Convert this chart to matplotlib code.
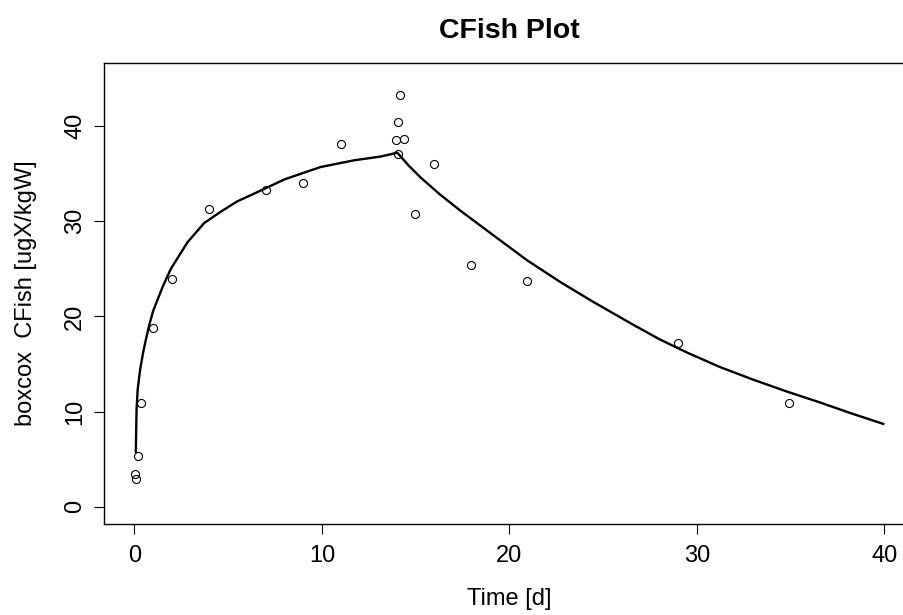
import matplotlib
matplotlib.use("Agg")
import matplotlib.pyplot as plt

plt.rcParams["font.family"] = ["Liberation Sans", "DejaVu Sans"]

# observed concentrations (time in days, boxcox-transformed CFish)
obs_time = [0.04, 0.08, 0.17, 0.36, 1.0, 2.0, 4.0, 7.0, 9.0, 11.0,
            13.93, 14.05, 14.07, 14.14, 14.35, 14.98, 15.95, 17.94,
            20.96, 28.97, 34.93]
obs_conc = [3.47, 2.91, 5.36, 10.92, 18.8, 23.9, 31.24, 33.3, 34.0, 38.1,
            38.5, 37.05, 40.4, 43.3, 38.6, 30.75, 36.0, 25.4,
            23.7, 17.2, 10.9]

# fitted model curve (uptake until day 14, then depuration)
fit_time = [0.07, 0.11, 0.17, 0.30, 0.45, 0.61, 0.8, 1.0, 1.5, 1.94,
            2.83, 3.71, 4.6, 5.49, 6.38, 8.0, 9.93, 11.7, 13.13, 14.02,
            14.6, 15.26, 16.3, 17.39, 19.16, 20.94, 22.72, 24.49, 26.62,
            28.0, 29.47, 31.2, 33.0, 34.8, 36.57, 38.17, 39.94]
fit_conc = [5.78, 10.2, 12.3, 14.4, 16.1, 17.6, 19.2, 20.6, 23.1, 25.0,
            27.8, 29.8, 31.0, 32.1, 32.9, 34.4, 35.7, 36.4, 36.8, 37.2,
            35.9, 34.6, 32.8, 31.1, 28.5, 25.9, 23.6, 21.5, 19.1,
            17.6, 16.2, 14.7, 13.35, 12.1, 10.95, 9.85, 8.7]

x_ticks = [0, 10, 20, 30, 40]
y_ticks = [0, 10, 20, 30, 40]

W, H = 904, 615
fig = plt.figure(figsize=(W / 100, H / 100), dpi=100)

# plot box in pixel terms: left 104.5, right 914.4 (runs off the page), top 63.3, bottom 523.8
left, right, top, bottom = 104.5, 914.4, 63.3, 523.8
ax = fig.add_axes([left / W, 1 - bottom / H, (right - left) / W, (bottom - top) / H])

ax.plot(fit_time, fit_conc, color="black", lw=1.7, solid_joinstyle="round", zorder=2)
ax.plot(obs_time, obs_conc, linestyle="none", marker="o", markersize=5.8,
        markerfacecolor="none", markeredgecolor="black", markeredgewidth=0.8, zorder=3)

ax.set_xlim(-1.6, 41.6)
ax.set_ylim(-1.8, 46.6)
ax.set_xticks(x_ticks)
ax.set_yticks(y_ticks)
ax.tick_params(direction="out", length=7.2, width=0.8, labelsize=17, color="black")
ax.tick_params(axis="x", pad=8)
ax.tick_params(axis="y", pad=6)
for lbl in ax.get_yticklabels():
    lbl.set_rotation(90)
    lbl.set_verticalalignment("center")

for sp in ax.spines.values():
    sp.set_linewidth(1.0)
    sp.set_color("black")

fig.text(509.5 / W, 1 - 31 / H, "CFish Plot", ha="center", va="center",
         fontsize=20.5, fontweight="bold")
fig.text(509.5 / W, 1 - 599 / H, "Time [d]", ha="center", va="center", fontsize=17)
fig.text(25.6 / W, 1 - ((top + bottom) / 2) / H, "boxcox  CFish [ugX/kgW]",
         ha="center", va="center", rotation=90, fontsize=17)

fig.savefig("out.png", dpi=100)
